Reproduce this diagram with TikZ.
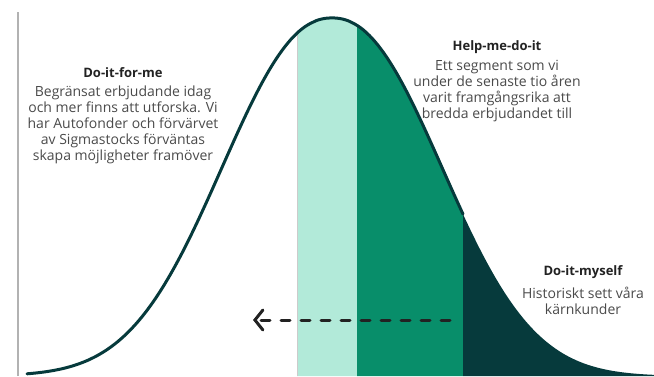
\documentclass[tikz,border=0pt]{standalone}
\usepackage{fontspec}
\setmainfont{Open Sans}
\usetikzlibrary{arrows.meta}

\definecolor{mint}{HTML}{B2EAD9}
\definecolor{midgreen}{HTML}{088E6A}
\definecolor{deepteal}{HTML}{063A3C}
\definecolor{bodygray}{HTML}{4A4A4A}
\definecolor{titlegray}{HTML}{222222}

\begin{document}
\begin{tikzpicture}[x=1pt,y=1pt,
    declare function={bell(\x)=358*exp(-((abs(\x-332)+0.01)/145.5)^2.2);},
    title/.style={font=\fontsize{13}{15}\selectfont\bfseries, text=titlegray, inner sep=0pt},
    body/.style={font=\fontsize{14}{16}\selectfont, text=bodygray, align=center, inner sep=0pt},
    curve/.style={deepteal, line width=3pt, line cap=round},
    ]
\useasboundingbox (0,0) rectangle (654,376);

%-------------------------------------------- Left axis
\draw[gray!60, line width=2.5pt] (18,0)--(18,364);

%-------------------------------------------- Segments under the curve
\fill[mint] (297,0) -- plot[domain=297:357, samples=30] (\x,{bell(\x)}) -- (357,0) -- cycle;
\draw[gray!40, line width=.6pt] (297,0) -- (297,{bell(297)});   % left edge
\fill[midgreen] (357,0) -- plot[domain=357:463, samples=50] (\x,{bell(\x)}) -- (463,0) -- cycle;
\fill[deepteal] (463,0) -- plot[domain=463:654, samples=80] (\x,{bell(\x)}) -- (654,0) -- cycle;

%-------------------------------------------- Bell curve
\draw[curve] plot[domain=27:463, samples=150] (\x,{bell(\x)});

%-------------------------------------------- Do-it-for-me
\node[title] (forme) at (123,303) {Do-it-for-me};
\node[body] (formetext) at (123,251) {Begränsat erbjudande idag\\och mer finns att utforska. Vi\\har Autofonder och förvärvet\\av Sigmastocks förväntas\\skapa möjligheter framöver};

%-------------------------------------------- Help-me-do-it
\node[title] (helpme) at (497,329) {Help-me-do-it};
\node[body] (helpmetext) at (497,285) {Ett segment som vi\\under de senaste tio åren\\varit framgångsrika att\\bredda erbjudandet till};

%-------------------------------------------- Do-it-myself
\node[title] (myself) at (583,104) {Do-it-myself};
\node[body] (myselftext) at (583,75) {Historiskt sett våra\\kärnkunder};

%-------------------------------------------- Shift arrow
\coordinate (shiftstart) at (450,56);
\coordinate (shiftend) at (253,56);
\draw[titlegray, line width=3pt, line cap=round, dash pattern=on 9pt off 11pt,
      -{Straight Barb[length=8pt,width=20pt,line cap=round]}] (shiftstart) -- (shiftend);

\end{tikzpicture}
\end{document}
